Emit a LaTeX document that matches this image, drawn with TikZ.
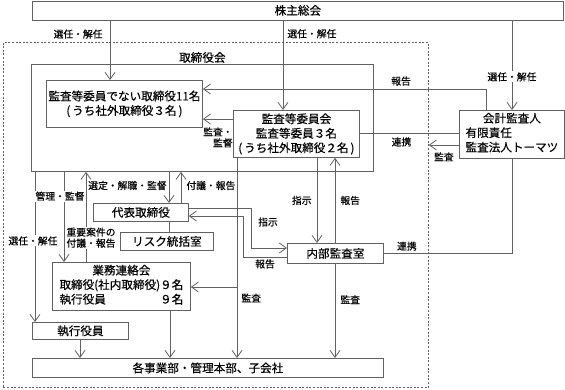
\documentclass[tikz,border=0pt]{standalone}
\usepackage{fontspec}
\setmainfont{Noto Sans CJK JP}[FakeBold=0.4]
\usetikzlibrary{positioning,arrows.meta}
\definecolor{linegray}{gray}{0.38}
\newcommand\orgfont{\fontsize{11.6}{14.5}\selectfont}
\newcommand\lblfont{\fontsize{9.8}{11}\selectfont}
\tikzset{
  org/.style={draw=linegray, line width=0.8pt, fill=white, font=\orgfont,
    align=center, inner sep=2pt, anchor=north west},
  group/.style={draw=linegray, line width=0.8pt, dash pattern=on 2pt off 1.6pt,
    inner sep=0pt, anchor=north west},
  grouplabel/.style={font=\orgfont, anchor=south, inner sep=1pt},
  flow/.style={-{Straight Barb[length=7pt, width=10pt]}, draw=linegray, line width=0.8pt},
  link/.style={draw=linegray, line width=0.8pt},
  flowlabel/.style={font=\lblfont, inner sep=1pt, align=center},
  onlabel/.style={flowlabel, fill=white},
}

\begin{document}
\begin{tikzpicture}[x=1pt, y=-1pt]
  \useasboundingbox (0,0) rectangle (565,389);
  % frame and board
  \node[group, minimum width=425pt, minimum height=345pt] (grp) at (3,42) {};
  \node[org, minimum width=342pt, minimum height=107pt] (board) at (31,64) {};
  \node[grouplabel] (boardlbl) at (board.north) {取締役会};
  % boxes
  \node[org, minimum width=531pt, minimum height=19pt] (agm) at (32,0.5) {株主総会};
  \node[org, minimum width=156pt, minimum height=47pt] (ndir) at (46,80)
    {監査等委員でない取締役11名\\(\,うち社外取締役３名\,)};
  \node[org, minimum width=126pt, minimum height=47pt] (acm) at (233,110)
    {監査等委員会\\監査等委員３名\\(\,うち社外取締役２名\,)};
  \node[org, minimum width=105pt, minimum height=47pt] (auditor) at (459,110)
    {\begin{tabular}{@{}l@{}}\multicolumn{1}{c}{会計監査人}\\有限責任\\監査法人トーマツ\end{tabular}};
  \node[org, minimum width=95pt, minimum height=18pt] (rep) at (93,203) {代表取締役};
  \node[org, minimum width=93pt, minimum height=18pt] (risk) at (120,232) {リスク統括室};
  \node[org, minimum width=138pt, minimum height=47pt] (liaison) at (52,262)
    {\begin{tabular}{@{}l@{}r@{}}\multicolumn{2}{c}{業務連絡会}\\取締役(社内取締役)~&９名\\執行役員&９名\end{tabular}};
  \node[org, minimum width=96pt, minimum height=17pt] (officer) at (32,322) {執行役員};
  \node[org, minimum width=96pt, minimum height=20pt] (ia) at (287,243) {内部監査室};
  \node[org, minimum width=351pt, minimum height=19pt] (depts) at (32,358) {各事業部・管理本部、子会社};
  % shareholders
  \draw[flow] (agm.south -| 110,0) -- node[flowlabel, left=6pt, pos=0.23] {選任・解任} (ndir.north -| 110,0);
  \draw[flow] (agm.south -| 283,0) -- node[flowlabel, right=3pt, pos=0.15] {選任・解任} (acm.north -| 283,0);
  \draw[flow] (agm.south -| 512,0) -- node[onlabel, pos=0.63] {選任・解任} (auditor.north -| 512,0);
  % audit committee and auditor
  \draw[flow] (auditor.north -| 486,0) |- node[flowlabel, above=2pt, pos=0.65] {報告} (ndir.east |- 0,89);
  \draw[flow] (acm.west |- 0,119) -- node[flowlabel, below=7pt, align=right] {監査・\\監督} (ndir.east |- 0,119);
  \draw[link] (acm.east |- 0,133) -- node[flowlabel, below=3pt, pos=0.42] {連携} (auditor.west |- 0,133);
  \draw[flow] (auditor.west |- 0,145) -- node[flowlabel, below=6pt] {監査} (grp.east |- 0,145);
  \draw[link] (auditor.south -| 512,0) |- node[flowlabel, above=1pt, pos=0.91] {連携} (ia.east |- 0,253);
  \draw[flow] (acm.south -| 317,0) -- node[flowlabel, left=4pt] {指示} (ia.north -| 317,0);
  \draw[flow] (ia.north -| 335,0) -- node[flowlabel, right=4pt] {報告} (acm.south -| 335,0);
  \draw[flow] (ia.south -| 335,0) -- node[flowlabel, right=4pt, pos=0.38] {監査} (depts.north -| 335,0);
  \draw[flow] (acm.south -| 237,0) -- node[flowlabel, right=3pt, pos=0.70] {監査} (depts.north -| 237,0);
  \draw[flow] (acm.south -| 237,0) |- (liaison.east |- 0,287);
  % board below
  \draw[flow] (board.south -| 35,0) -- node[onlabel, pos=0.46, xshift=-2pt] {選任・解任} (officer.north -| 35,0);
  \draw[flow] (board.south -| 64,0) -- node[onlabel, pos=0.27, xshift=-4pt] {管理・監督} (liaison.north -| 64,0);
  \draw[flow] (liaison.north -| 86,0) -- node[onlabel, pos=0.27, xshift=5pt] {重要案件の\\付議・報告} (board.south -| 86,0);
  \draw[flow] (board.south -| 169,0) -- node[flowlabel, left=1pt, pos=0.44] {選定・解職・監督} (rep.north -| 169,0);
  \draw[flow] (rep.north -| 181,0) -- node[flowlabel, right=4pt, pos=0.56] {付議・報告} (board.south -| 181,0);
  \draw[link] (rep.south -| 169,0) -- (risk.north -| 169,0);
  % representative and internal audit
  \draw[flow] (rep.east |- 0,208) -- ++(63,0) |- node[flowlabel, right=5pt, pos=0.175] {指示} (ia.west |- 0,248);
  \draw[flow] (ia.west |- 0,257) -- node[flowlabel, below=1pt] {報告} ++(-44,0) |- (rep.east |- 0,216);
  \draw[flow] (liaison.south -| 170,0) -- (depts.north -| 170,0);
  \draw[flow] (officer.south -| 80,0) -- (depts.north -| 80,0);
\end{tikzpicture}
\end{document}
